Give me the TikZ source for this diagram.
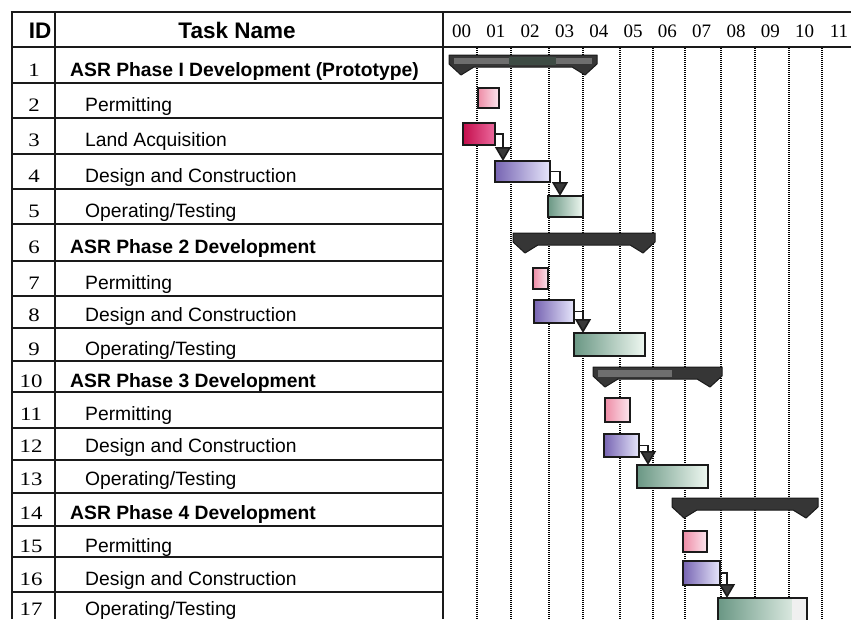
\documentclass[tikz,border=0pt]{standalone}
\usepackage{fontspec}
\usepackage{graphicx}
\setmainfont{Liberation Sans}
\newfontfamily\numfont{Liberation Serif}
\usetikzlibrary{arrows.meta}

\definecolor{gridink}{HTML}{1A1A1A}
\definecolor{permitL}{HTML}{EE8CA6}
\definecolor{permitR}{HTML}{FCE6EE}
\definecolor{landL}{HTML}{C40E4C}
\definecolor{landR}{HTML}{EC6A9E}
\definecolor{designL}{HTML}{7764B2}
\definecolor{designR}{HTML}{E6E6FB}
\definecolor{operL}{HTML}{6A9784}
\definecolor{operR}{HTML}{EFF8F1}
\definecolor{sumdark}{HTML}{363636}
\definecolor{sumlight}{HTML}{6E6E6E}
\definecolor{sumgreen}{HTML}{3E4B44}
\definecolor{linkgrey}{HTML}{383838}

% summary bar: #1 = start x, #2 = finish x, #3 = top y
\newcommand{\summarybar}[3]{%
  \filldraw[sumbar] (#1,#3) -- (#2,#3) -- (#2,{#3+9}) -- ({#2-12},{#3+20})
    -- ({#2-25},{#3+12}) -- ({#1+25},{#3+12}) -- ({#1+12},{#3+20})
    -- (#1,{#3+9}) -- cycle;}

\begin{document}
\begin{tikzpicture}[x=1pt,y=-1pt,
  frame/.style={gridink, line width=2.8pt},
  rowline/.style={gridink, line width=1.3pt},
  coldiv/.style={gridink, line width=1.6pt},
  yearline/.style={black, line width=1.1pt, dash pattern=on 1pt off 1pt},
  head/.style={font=\fontsize{22.5}{24}\selectfont\bfseries, anchor=base},
  idnum/.style={font=\fontsize{19}{20}\selectfont\numfont, anchor=base},
  phase/.style={font=\fontsize{19.3}{20}\selectfont\bfseries, anchor=base west, inner sep=0pt},
  sub/.style={font=\fontsize{19.3}{20}\selectfont, anchor=base west, inner sep=0pt},
  yr/.style={font=\fontsize{19}{20}\selectfont\numfont, anchor=base},
  taskbar/.style={draw=gridink, line width=1.5pt, inner sep=0pt, outer sep=0pt},
  permit/.style={taskbar, left color=permitL, right color=permitR},
  land/.style={taskbar, left color=landL, right color=landR},
  design/.style={taskbar, left color=designL, right color=designR},
  oper/.style={taskbar, left color=operL, right color=operR},
  sumbar/.style={fill=sumdark, draw=gridink, line width=1pt, line join=round},
  link/.style={gridink, line width=1.6pt,
    -{Triangle[width=16pt,length=14pt,fill=linkgrey]}},
]
\useasboundingbox (0,0) rectangle (851,619);
\clip (0,0) rectangle (851,619);
\fill[white] (0,0) rectangle (851,619);

% ---------- time scale ----------
\foreach \x in {477,511,549,583,620,653,685,721,755,789,822}
  \draw[yearline] (\x,48) -- (\x,619);
\foreach \k [count=\n from 0] in {00,01,02,03,04,05,06,07,08,09,10,11}
  \node[yr] (yr\k) at ({461.6+34.3*\n},37) {\k};

% ---------- table grid ----------
\foreach \y in {83,118,154,189,224,261,296,328,361,392,428,460,493,526,557,592}
  \draw[rowline] (12,\y) -- (443,\y);
\draw[frame] (10.6,12) -- (851,12);
\draw[gridink, line width=2.4pt] (12,47) -- (851,47);
\draw[frame] (12,12) -- (12,619);
\draw[coldiv] (55,12) -- (55,619);
\draw[gridink, line width=2.6pt] (443,12) -- (443,619);

% ---------- header ----------
\node[head] (hid) at (40,38) {ID};
\node[head] (hname) at (237,38) {Task Name};

% ---------- task rows ----------
\node[idnum] (id1)  at (34,76)  {\scalebox{1.2}[1]{1}};
\node[idnum] (id2)  at (34,111) {\scalebox{1.2}[1]{2}};
\node[idnum] (id3)  at (34,146) {\scalebox{1.2}[1]{3}};
\node[idnum] (id4)  at (34,182) {\scalebox{1.2}[1]{4}};
\node[idnum] (id5)  at (34,217) {\scalebox{1.2}[1]{5}};
\node[idnum] (id6)  at (34,253) {\scalebox{1.2}[1]{6}};
\node[idnum] (id7)  at (34,289) {\scalebox{1.2}[1]{7}};
\node[idnum] (id8)  at (34,321) {\scalebox{1.2}[1]{8}};
\node[idnum] (id9)  at (34,355) {\scalebox{1.2}[1]{9}};
\node[idnum] (id10) at (31,387) {\scalebox{1.2}[1]{10}};
\node[idnum] (id11) at (31,420) {\scalebox{1.2}[1]{11}};
\node[idnum] (id12) at (31,452) {\scalebox{1.2}[1]{12}};
\node[idnum] (id13) at (31,485) {\scalebox{1.2}[1]{13}};
\node[idnum] (id14) at (31,519) {\scalebox{1.2}[1]{14}};
\node[idnum] (id15) at (31,552) {\scalebox{1.2}[1]{15}};
\node[idnum] (id16) at (31,585) {\scalebox{1.2}[1]{16}};
\node[idnum] (id17) at (31,615) {\scalebox{1.2}[1]{17}};

\node[phase] (t1)  at (70,76)  {ASR Phase I Development (Prototype)};
\node[sub]   (t2)  at (85,111) {Permitting};
\node[sub]   (t3)  at (85,146) {Land Acquisition};
\node[sub]   (t4)  at (85,182) {Design and Construction};
\node[sub]   (t5)  at (85,217) {Operating/Testing};
\node[phase] (t6)  at (70,253) {ASR Phase 2 Development};
\node[sub]   (t7)  at (85,289) {Permitting};
\node[sub]   (t8)  at (85,321) {Design and Construction};
\node[sub]   (t9)  at (85,355) {Operating/Testing};
\node[phase] (t10) at (70,387) {ASR Phase 3 Development};
\node[sub]   (t11) at (85,420) {Permitting};
\node[sub]   (t12) at (85,452) {Design and Construction};
\node[sub]   (t13) at (85,485) {Operating/Testing};
\node[phase] (t14) at (70,519) {ASR Phase 4 Development};
\node[sub]   (t15) at (85,552) {Permitting};
\node[sub]   (t16) at (85,585) {Design and Construction};
\node[sub]   (t17) at (85,615) {Operating/Testing};

% ---------- summary bars ----------
\summarybar{449}{597}{55}
\fill[sumlight] (454,58) rectangle (509,64);
\fill[sumgreen] (509,57) rectangle (556,65);
\fill[sumlight] (556,58) rectangle (592,64);
\summarybar{513}{655}{233}
\summarybar{593}{722}{367}
\fill[sumlight] (598,370) rectangle (672,377);
\summarybar{672}{818}{498}

% ---------- task bars ----------
\node[permit, minimum width=21pt, minimum height=20pt] (b2)  at (488.5,98)  {};
\node[land,   minimum width=32pt, minimum height=22pt] (b3)  at (479,134)   {};
\node[design, minimum width=55pt, minimum height=21pt] (b4)  at (522.5,171.5) {};
\node[oper,   minimum width=35pt, minimum height=21pt] (b5)  at (565.5,206.5) {};
\node[permit, minimum width=15pt, minimum height=21pt] (b7)  at (540.5,278.5) {};
\node[design, minimum width=40pt, minimum height=23pt] (b8)  at (554,311.5) {};
\node[oper,   minimum width=71pt, minimum height=23pt] (b9)  at (609.5,344.5) {};
\node[permit, minimum width=25pt, minimum height=24pt] (b11) at (617.5,410) {};
\node[design, minimum width=35pt, minimum height=23pt] (b12) at (621.5,445.5) {};
\node[oper,   minimum width=71pt, minimum height=23pt] (b13) at (672.5,476.5) {};
\node[permit, minimum width=24pt, minimum height=21pt] (b15) at (695,541.5) {};
\node[design, minimum width=37pt, minimum height=24pt] (b16) at (701.5,573) {};
\node[taskbar, minimum width=89pt, minimum height=28pt,
  path picture={
    \shade[left color=operL, right color=operR]
      (path picture bounding box.north west) rectangle ([xshift=-15pt]path picture bounding box.south east);
    \fill[black!6] ([xshift=-15pt]path picture bounding box.north east) rectangle (path picture bounding box.south east);
  }] (b17) at (762.5,612) {};

% ---------- dependency links ----------
\draw[link] (b3.east)  -| ([xshift=8pt]b4.north west);
\draw[link] (b4.east)  -| ([xshift=12pt]b5.north west);
\draw[link] (b8.east)  -| ([xshift=9pt]b9.north west);
\draw[link] (b12.east) -| ([xshift=11pt]b13.north west);
\draw[link] (b16.east) -| ([xshift=9pt]b17.north west);
\end{tikzpicture}
\end{document}
